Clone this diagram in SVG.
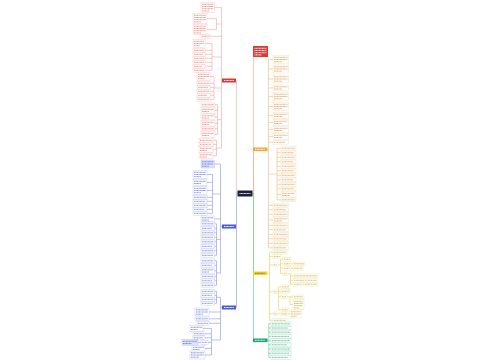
<svg xmlns="http://www.w3.org/2000/svg" width="500" height="360" viewBox="0 0 500 360">
<style>
.c path{fill:none;stroke-width:.6}
.kr{stroke:#eda5a2}.kb{stroke:#8a93dd}.ko{stroke:#eebb7a}.ky{stroke:#e5cf5c}.kg{stroke:#5cc497}
.L rect{fill:#fff;stroke-width:.35}
.L path{fill:none;stroke-width:.85;stroke-dasharray:1.1 .35;opacity:.75}
.r rect{stroke:#f2b3b0}.r path{stroke:#d9605a}
.b rect{stroke:#aab2ee}.b path{stroke:#4a58c8}
.o rect{stroke:#f1cf9c}.o path{stroke:#c98a3c}
.y rect{stroke:#eadc8a}.y path{stroke:#b79e2c}
.g rect{stroke:#96d8bb}.g path{stroke:#2d9e6e}
.f rect{fill:#dde2fb}
.N path{fill:none;stroke:#fff;stroke-width:.9;stroke-dasharray:1.1 .35}
</style>
<rect width="500" height="360" fill="#fff"/>
<g id="connectors" class="c">
<path class="kr" d="M237.5 193.5H236.5V80.5M221.5 80.5H222"/>
<path class="kb" d="M237.5 193.5H236.5V307.5M220.5 226.5H222M220.5 307.5H222"/>
<path class="ko" d="M252.5 193.5H253.5V149.3M267.5 149.3H268.5"/>
<path class="kr" d="M252.5 193.5H253.5V57"/>
<path class="ky" d="M252.5 193.5H253.5V273.3M267.5 273.3H269.5"/>
<path class="kg" d="M252.5 193.5H253.5V340.3M267.5 340.3H268.8"/>
<path class="kr" d="M221.5 7.6V148M214.5 7.6H221.5M207 18.6H216.5M207 29.6H216.5M216.5 18.6V29.6M216.5 24H221.5M210 36.3H221.5M205 43.5H212M205 50.3H212M205 54.3H212M205 58.3H212M205 62.3H212M205 66.3H212M205 70.3H212M212 43.5V70.3M212 57H221.5M210 76.5H214M210 83.3H214M210 87.3H214M210 91.3H214M210 95.3H214M210 99.3H214M214 76.5V99.3M214 88H221.5M215 104.8H217.5M215 110.4H217.5M215 116.9H217.5M215 123.4H217.5M215 128.8H217.5M215 134.4H217.5M217.5 104.8V134.4M217.5 119.6H221.5M213 140.3H216.5M213 144.3H216.5M213 149.4H216.5M213 155.9H216.5M216.5 140.3V155.9M216.5 148H221.5"/>
<path class="kb" d="M220.5 164V273M214.5 164H220.5M207 174.5H212.5M207 182.4H212.5M207 190.5H212.5M207 197.3H212.5M207 201.3H212.5M207 205.3H212.5M207 209.3H212.5M207 213.3H212.5M212.5 174.5V213.3M212.5 194H220.5M214.5 218.9H220.5M214.5 223.8H216.5M214.5 228.3H216.5M214.5 232.8H216.5M214.5 237.3H216.5M214.5 241.8H216.5M214.5 246.3H216.5M214.5 250.8H216.5M214.5 255.3H216.5M216.5 223.8V255.3M216.5 239.5H220.5M214.5 260.8H216.5M214.5 265.3H216.5M214.5 270.9H216.5M214.5 276.3H216.5M214.5 280.8H216.5M214.5 285.3H216.5M216.5 260.8V285.3M216.5 273H220.5"/>
<path class="kb" d="M220.5 297.3V340M214.5 291.3H216.5M214.5 295.3H216.5M214.5 299.3H216.5M214.5 303.3H216.5M216.5 291.3V303.3M216.5 297.3H220.5M209 312H220.5M209 318.8H220.5M209 323.3H220.5M203 328.4H211.5M205 333.8H211.5M205 337.8H211.5M198 342.4H201M208 342.4H211.5M205 348.4H211.5M205 355H211.5M211.5 328.4V355M211.5 340H220.5"/>
<path class="ko" d="M268.5 59.5V247.8M268.5 59.5H273M268.5 69H273M268.5 79H273M268.5 87.9H273M268.5 96.5H273M268.5 106.5H273M268.5 115.4H273M268.5 122.4H273M268.5 129.4H273M268.5 136.4H273M268.5 142.3H273M268.5 205.3H273M268.5 209.8H273M268.5 214.3H273M268.5 219.9H273M268.5 225.3H273M268.5 229.8H273M268.5 234.3H273M268.5 238.8H273M268.5 243.3H273M268.5 247.8H273M268.5 174H277M277 148.3V199.8M277 148.3H281M277 152.8H281M277 157.3H281M277 161.8H281M277 166.3H281M277 170.8H281M277 175.3H281M277 179.8H281M277 184.3H281M277 188.8H281M277 194.4H281M277 199.8H281"/>
<path class="ky" d="M269.5 252.3V320.3M269.5 252.3H273M269.5 256.6H273M269.5 264.8H273M269.5 291.8H273M269.5 313.8H273M269.5 320.3H273M278 264.8H280.5M280.5 259.3V273.8M280.5 259.3H283M280.5 263.8H283M280.5 268.3H283M280.5 273.8H283M291 263.8H293M291 268.3H293M288 273.8H290.5M290.5 273.8V284.3M290.5 275.8H293M290.5 280.3H293M290.5 284.3H293M305 280.3H307M302 284.3H304M278 291.8H278.5M278.5 286.8V309.8M278.5 286.8H281M278.5 291.3H281M278.5 296.8H281M278.5 309.8H281M287 296.8H290M290 296.8V304.6M290 296.8H293M290 304.6H293M278 313.8H281M288 313.8H290"/>
<path class="kg" d="M268.8 323.8V357.4M268.8 323.8H271M268.8 328H271M268.8 332.2H271M268.8 336.4H271M268.8 340.6H271M268.8 344.8H271M268.8 349H271M268.8 353.2H271M268.8 357.4H271"/>
</g>
<g id="root" class="N"><rect x="237.5" y="190.5" width="15" height="6" fill="#1c2040"/><path d="M239.5 193.5h11"/></g>
<g id="title" class="N"><rect x="253" y="46" width="15" height="11" fill="#db3b35"/><path d="M254.5 48.3h12M254.5 50.5h12M254.5 52.7h12M254.5 54.9h7"/></g>
<g id="br-red" class="N"><rect x="222" y="78.5" width="14" height="4" fill="#d93a34"/><path d="M224 80.5h10"/></g>
<g id="br-blue1" class="N"><rect x="222" y="224.5" width="14" height="4" fill="#4b5bd0"/><path d="M224 226.5h10"/></g>
<g id="br-blue2" class="N"><rect x="222" y="305.5" width="14" height="4" fill="#4b5bd0"/><path d="M224 307.5h10"/></g>
<g id="br-orange" class="N"><rect x="253" y="147.5" width="14.5" height="3.6" fill="#f2a340"/><path d="M255 149.3h10"/></g>
<g id="br-yellow"><rect x="253" y="271.5" width="14.5" height="3.6" fill="#f5d327"/><path d="M255 273.3h10" stroke="#8a6d00" stroke-width=".9" stroke-dasharray="1.1 .35"/></g>
<g id="br-green" class="N"><rect x="253" y="338.5" width="14.5" height="3.6" fill="#23a26e"/><path d="M255 340.3h10"/></g>

<g id="r1" class="L r"><rect x="201" y="2.5" width="13.5" height="10.2"/><path d="M202 4.3h11.5M202 6.5h11.5M202 8.7h11.5M202 10.9h6.9"/></g>
<g id="r2" class="L r"><rect x="193" y="13.5" width="14" height="10.2"/><path d="M194 15.3h12M194 17.5h12M194 19.7h12M194 21.9h7.2"/></g>
<g id="r3" class="L r"><rect x="193" y="24.5" width="14" height="10.2"/><path d="M194 26.3h12M194 28.5h12M194 30.7h12M194 32.9h7.2"/></g>
<g id="r4" class="L r"><rect x="201" y="34.5" width="9" height="3.6"/><path d="M202 36.3h7"/></g>
<g id="r5" class="L r"><rect x="193" y="39.5" width="12" height="8"/><path d="M194 41.3h10M194 43.5h10M194 45.7h6"/></g>
<g id="r6" class="L r"><rect x="193" y="48.5" width="12" height="3.6"/><path d="M194 50.3h10"/></g>
<g id="r7" class="L r"><rect x="193" y="52.5" width="12" height="3.6"/><path d="M194 54.3h9"/></g>
<g id="r8" class="L r"><rect x="193" y="56.5" width="12" height="3.6"/><path d="M194 58.3h10"/></g>
<g id="r9" class="L r"><rect x="193" y="60.5" width="12" height="3.6"/><path d="M194 62.3h10"/></g>
<g id="r10" class="L r"><rect x="193" y="64.5" width="12" height="3.6"/><path d="M194 66.3h8"/></g>
<g id="r11" class="L r"><rect x="193" y="68.5" width="12" height="3.6"/><path d="M194 70.3h10"/></g>
<g id="r12" class="L r"><rect x="197" y="72.5" width="13" height="8"/><path d="M198 74.3h11M198 76.5h11M198 78.7h6.6"/></g>
<g id="r13" class="L r"><rect x="197" y="81.5" width="13" height="3.6"/><path d="M198 83.3h11"/></g>
<g id="r14" class="L r"><rect x="197" y="85.5" width="13" height="3.6"/><path d="M198 87.3h10"/></g>
<g id="r15" class="L r"><rect x="197" y="89.5" width="13" height="3.6"/><path d="M198 91.3h11"/></g>
<g id="r16" class="L r"><rect x="197" y="93.5" width="13" height="3.6"/><path d="M198 95.3h9"/></g>
<g id="r17" class="L r"><rect x="197" y="97.5" width="13" height="3.6"/><path d="M198 99.3h11"/></g>
<g id="r18" class="L r"><rect x="201" y="103" width="14" height="3.6"/><path d="M202 104.8h12"/></g>
<g id="r19" class="L r"><rect x="201" y="107.5" width="14" height="5.8"/><path d="M202 109.3h12M202 111.5h7.2"/></g>
<g id="r20" class="L r"><rect x="201" y="114" width="14" height="5.8"/><path d="M202 115.8h12M202 118h7.2"/></g>
<g id="r21" class="L r"><rect x="201" y="120.5" width="14" height="5.8"/><path d="M202 122.3h12M202 124.5h7.2"/></g>
<g id="r22" class="L r"><rect x="201" y="127" width="14" height="3.6"/><path d="M202 128.8h12"/></g>
<g id="r23" class="L r"><rect x="201" y="131.5" width="14" height="5.8"/><path d="M202 133.3h12M202 135.5h7.2"/></g>
<g id="r24" class="L r"><rect x="199" y="138.5" width="14" height="3.6"/><path d="M200 140.3h12"/></g>
<g id="r25" class="L r"><rect x="199" y="142.5" width="14" height="3.6"/><path d="M200 144.3h11"/></g>
<g id="r26" class="L r"><rect x="199" y="146.5" width="14" height="5.8"/><path d="M200 148.3h12M200 150.5h7.2"/></g>
<g id="r27" class="L r"><rect x="199" y="153" width="14" height="5.8"/><path d="M200 154.8h12M200 157h7.2"/></g>

<g id="b1" class="L b f"><rect x="201" y="160" width="13.5" height="8"/><path d="M202 161.8h11.5M202 164h11.5M202 166.2h6.9"/></g>
<g id="b2" class="L b"><rect x="193" y="170.5" width="14" height="8"/><path d="M194 172.3h12M194 174.5h12M194 176.7h7.2"/></g>
<g id="b3" class="L b"><rect x="193" y="179.5" width="14" height="5.8"/><path d="M194 181.3h12M194 183.5h7.2"/></g>
<g id="b4" class="L b"><rect x="193" y="186.5" width="14" height="8"/><path d="M194 188.3h12M194 190.5h12M194 192.7h7.2"/></g>
<g id="b5" class="L b"><rect x="193" y="195.5" width="14" height="3.6"/><path d="M194 197.3h12"/></g>
<g id="b6" class="L b"><rect x="193" y="199.5" width="14" height="3.6"/><path d="M194 201.3h11"/></g>
<g id="b7" class="L b"><rect x="193" y="203.5" width="14" height="3.6"/><path d="M194 205.3h12"/></g>
<g id="b8" class="L b"><rect x="193" y="207.5" width="14" height="3.6"/><path d="M194 209.3h10"/></g>
<g id="b9" class="L b"><rect x="193" y="211.5" width="14" height="3.6"/><path d="M194 213.3h12"/></g>
<g id="b10" class="L b"><rect x="201" y="216" width="13.5" height="5.8"/><path d="M202 217.8h11.5M202 220h6.9"/></g>
<g id="b11" class="L b"><rect x="201" y="222" width="13.5" height="3.6"/><path d="M202 223.8h11.5"/></g>
<g id="b12" class="L b"><rect x="201" y="226.5" width="13.5" height="3.6"/><path d="M202 228.3h10"/></g>
<g id="b13" class="L b"><rect x="201" y="231" width="13.5" height="3.6"/><path d="M202 232.8h11.5"/></g>
<g id="b14" class="L b"><rect x="201" y="235.5" width="13.5" height="3.6"/><path d="M202 237.3h11"/></g>
<g id="b15" class="L b"><rect x="201" y="240" width="13.5" height="3.6"/><path d="M202 241.8h11.5"/></g>
<g id="b16" class="L b"><rect x="201" y="244.5" width="13.5" height="3.6"/><path d="M202 246.3h10"/></g>
<g id="b17" class="L b"><rect x="201" y="249" width="13.5" height="3.6"/><path d="M202 250.8h11.5"/></g>
<g id="b18" class="L b"><rect x="201" y="253.5" width="13.5" height="3.6"/><path d="M202 255.3h11"/></g>
<g id="b19" class="L b"><rect x="201" y="259" width="13.5" height="3.6"/><path d="M202 260.8h11.5"/></g>
<g id="b20" class="L b"><rect x="201" y="263.5" width="13.5" height="3.6"/><path d="M202 265.3h10"/></g>
<g id="b21" class="L b"><rect x="201" y="268" width="13.5" height="5.8"/><path d="M202 269.8h11.5M202 272h6.9"/></g>
<g id="b22" class="L b"><rect x="201" y="274.5" width="13.5" height="3.6"/><path d="M202 276.3h11.5"/></g>
<g id="b23" class="L b"><rect x="201" y="279" width="13.5" height="3.6"/><path d="M202 280.8h10"/></g>
<g id="b24" class="L b"><rect x="201" y="283.5" width="13.5" height="3.6"/><path d="M202 285.3h11.5"/></g>

<g id="d1" class="L b"><rect x="201" y="289.5" width="13.5" height="3.6"/><path d="M202 291.3h11.5"/></g>
<g id="d2" class="L b"><rect x="201" y="293.5" width="13.5" height="3.6"/><path d="M202 295.3h10"/></g>
<g id="d3" class="L b"><rect x="201" y="297.5" width="13.5" height="3.6"/><path d="M202 299.3h11.5"/></g>
<g id="d4" class="L b"><rect x="201" y="301.5" width="13.5" height="3.6"/><path d="M202 303.3h11"/></g>
<g id="d5" class="L b"><rect x="195" y="308" width="14" height="8"/><path d="M196 309.8h12M196 312h12M196 314.2h7.2"/></g>
<g id="d6" class="L b"><rect x="195" y="317" width="14" height="3.6"/><path d="M196 318.8h12"/></g>
<g id="d7" class="L b"><rect x="197" y="321.5" width="12" height="3.6"/><path d="M198 323.3h10"/></g>
<g id="d8" class="L b"><rect x="190" y="325.5" width="13" height="5.8"/><path d="M191 327.3h11M191 329.5h6.6"/></g>
<g id="d9" class="L b"><rect x="193" y="332" width="12" height="3.6"/><path d="M194 333.8h10"/></g>
<g id="d10" class="L b"><rect x="193" y="336" width="12" height="3.6"/><path d="M194 337.8h9"/></g>
<g id="d11" class="L b f"><rect x="182" y="339.5" width="16" height="5.8"/><path d="M183 341.3h14M183 343.5h8.4"/></g>
<g id="d12" class="L b"><rect x="201" y="340.6" width="7" height="3.6"/><path d="M202 342.4h5"/></g>
<g id="d13" class="L b"><rect x="192" y="345.5" width="13" height="5.8"/><path d="M193 347.3h11M193 349.5h6.6"/></g>
<g id="d14" class="L b"><rect x="190" y="351" width="15" height="8"/><path d="M191 352.8h13M191 355h13M191 357.2h7.8"/></g>

<g id="o1" class="L o"><rect x="273" y="55.5" width="15.5" height="8"/><path d="M274 57.3h13.5M274 59.5h13.5M274 61.7h8.1"/></g>
<g id="o2" class="L o"><rect x="273" y="65" width="15.5" height="8"/><path d="M274 66.8h13.5M274 69h13.5M274 71.2h8.1"/></g>
<g id="o3" class="L o"><rect x="273" y="75" width="15.5" height="8"/><path d="M274 76.8h13.5M274 79h13.5M274 81.2h8.1"/></g>
<g id="o4" class="L o"><rect x="273" y="85" width="15.5" height="5.8"/><path d="M274 86.8h13.5M274 89h8.1"/></g>
<g id="o5" class="L o"><rect x="273" y="92.5" width="15.5" height="8"/><path d="M274 94.3h13.5M274 96.5h13.5M274 98.7h8.1"/></g>
<g id="o6" class="L o"><rect x="273" y="102.5" width="15.5" height="8"/><path d="M274 104.3h13.5M274 106.5h13.5M274 108.7h8.1"/></g>
<g id="o7" class="L o"><rect x="273" y="112.5" width="15.5" height="5.8"/><path d="M274 114.3h13.5M274 116.5h8.1"/></g>
<g id="o8" class="L o"><rect x="273" y="119.5" width="15.5" height="5.8"/><path d="M274 121.3h13.5M274 123.5h8.1"/></g>
<g id="o9" class="L o"><rect x="273" y="126.5" width="15.5" height="5.8"/><path d="M274 128.3h13.5M274 130.5h8.1"/></g>
<g id="o10" class="L o"><rect x="273" y="133.5" width="15.5" height="5.8"/><path d="M274 135.3h13.5M274 137.5h8.1"/></g>
<g id="o11" class="L o"><rect x="273" y="140.5" width="15.5" height="3.6"/><path d="M274 142.3h11"/></g>
<g id="o12" class="L o"><rect x="281" y="146.5" width="15" height="3.6"/><path d="M282 148.3h13"/></g>
<g id="o13" class="L o"><rect x="281" y="151" width="15" height="3.6"/><path d="M282 152.8h12"/></g>
<g id="o14" class="L o"><rect x="281" y="155.5" width="15" height="3.6"/><path d="M282 157.3h13"/></g>
<g id="o15" class="L o"><rect x="281" y="160" width="15" height="3.6"/><path d="M282 161.8h11"/></g>
<g id="o16" class="L o"><rect x="281" y="164.5" width="15" height="3.6"/><path d="M282 166.3h13"/></g>
<g id="o17" class="L o"><rect x="281" y="169" width="15" height="3.6"/><path d="M282 170.8h12"/></g>
<g id="o18" class="L o"><rect x="281" y="173.5" width="15" height="3.6"/><path d="M282 175.3h13"/></g>
<g id="o19" class="L o"><rect x="281" y="178" width="15" height="3.6"/><path d="M282 179.8h11"/></g>
<g id="o20" class="L o"><rect x="281" y="182.5" width="15" height="3.6"/><path d="M282 184.3h13"/></g>
<g id="o21" class="L o"><rect x="281" y="187" width="15" height="3.6"/><path d="M282 188.8h12"/></g>
<g id="o22" class="L o"><rect x="281" y="191.5" width="15" height="5.8"/><path d="M282 193.3h13M282 195.5h7.8"/></g>
<g id="o23" class="L o"><rect x="281" y="198" width="15" height="3.6"/><path d="M282 199.8h13"/></g>
<g id="o24" class="L o"><rect x="273" y="203.5" width="15.5" height="3.6"/><path d="M274 205.3h13.5"/></g>
<g id="o25" class="L o"><rect x="273" y="208" width="15.5" height="3.6"/><path d="M274 209.8h12"/></g>
<g id="o26" class="L o"><rect x="273" y="212.5" width="15.5" height="3.6"/><path d="M274 214.3h13.5"/></g>
<g id="o27" class="L o"><rect x="273" y="217" width="15.5" height="5.8"/><path d="M274 218.8h13.5M274 221h8.1"/></g>
<g id="o28" class="L o"><rect x="273" y="223.5" width="15.5" height="3.6"/><path d="M274 225.3h13.5"/></g>
<g id="o29" class="L o"><rect x="273" y="228" width="15.5" height="3.6"/><path d="M274 229.8h12"/></g>
<g id="o30" class="L o"><rect x="273" y="232.5" width="15.5" height="3.6"/><path d="M274 234.3h13.5"/></g>
<g id="o31" class="L o"><rect x="273" y="237" width="15.5" height="3.6"/><path d="M274 238.8h13"/></g>
<g id="o32" class="L o"><rect x="273" y="241.5" width="15.5" height="3.6"/><path d="M274 243.3h13.5"/></g>
<g id="o33" class="L o"><rect x="273" y="246" width="15.5" height="3.6"/><path d="M274 247.8h12"/></g>

<g id="y1" class="L y"><rect x="273" y="250.5" width="14" height="3.6"/><path d="M274 252.3h12"/></g>
<g id="y2" class="L y"><rect x="273" y="254.8" width="8" height="3.6"/><path d="M274 256.6h6"/></g>
<g id="y3" class="L y"><rect x="273" y="263" width="5" height="3.6"/><path d="M274 264.8h3"/></g>
<g id="y4" class="L y"><rect x="283" y="257.5" width="8" height="3.6"/><path d="M284 259.3h6"/></g>
<g id="y5" class="L y"><rect x="283" y="262" width="8" height="3.6"/><path d="M284 263.8h6"/></g>
<g id="y6" class="L y"><rect x="293" y="262" width="12" height="3.6"/><path d="M294 263.8h10"/></g>
<g id="y7" class="L y"><rect x="283" y="266.5" width="8" height="3.6"/><path d="M284 268.3h6"/></g>
<g id="y8" class="L y"><rect x="293" y="266.5" width="10" height="3.6"/><path d="M294 268.3h8"/></g>
<g id="y9" class="L y"><rect x="283" y="272" width="5" height="3.6"/><path d="M284 273.8h3"/></g>
<g id="y10" class="L y"><rect x="293" y="274" width="25" height="3.6"/><path d="M294 275.8h23"/></g>
<g id="y11" class="L y"><rect x="293" y="278.5" width="12" height="3.6"/><path d="M294 280.3h10"/></g>
<g id="y12" class="L y"><rect x="307" y="278.5" width="11" height="3.6"/><path d="M308 280.3h9"/></g>
<g id="y13" class="L y"><rect x="293" y="282.5" width="9" height="3.6"/><path d="M294 284.3h7"/></g>
<g id="y14" class="L y"><rect x="304" y="282.5" width="14" height="3.6"/><path d="M305 284.3h12"/></g>
<g id="y15" class="L y"><rect x="273" y="290" width="5" height="3.6"/><path d="M274 291.8h3"/></g>
<g id="y16" class="L y"><rect x="281" y="285" width="9" height="3.6"/><path d="M282 286.8h7"/></g>
<g id="y17" class="L y"><rect x="281" y="289.5" width="9" height="3.6"/><path d="M282 291.3h7"/></g>
<g id="y18" class="L y"><rect x="281" y="295" width="6" height="3.6"/><path d="M282 296.8h4"/></g>
<g id="y19" class="L y"><rect x="293" y="295" width="11" height="3.6"/><path d="M294 296.8h9"/></g>
<g id="y20" class="L y"><rect x="293" y="299.5" width="11" height="10.2"/><path d="M294 301.3h9M294 303.5h9M294 305.7h9M294 307.9h5.4"/></g>
<g id="y21" class="L y"><rect x="281" y="308" width="8" height="3.6"/><path d="M282 309.8h6"/></g>
<g id="y22" class="L y"><rect x="273" y="312" width="5" height="3.6"/><path d="M274 313.8h3"/></g>
<g id="y23" class="L y"><rect x="281" y="312" width="7" height="3.6"/><path d="M282 313.8h5"/></g>
<g id="y24" class="L y"><rect x="290" y="310" width="12" height="8"/><path d="M291 311.8h10M291 314h10M291 316.2h6"/></g>
<g id="y25" class="L y"><rect x="273" y="318.5" width="14" height="3.6"/><path d="M274 320.3h12"/></g>

<g id="g1" class="L g"><rect x="271" y="322" width="20" height="3.6"/><path d="M272 323.8h18"/></g>
<g id="g2" class="L g"><rect x="271" y="326.2" width="20" height="3.6"/><path d="M272 328h16"/></g>
<g id="g3" class="L g"><rect x="271" y="330.4" width="20" height="3.6"/><path d="M272 332.2h18"/></g>
<g id="g4" class="L g"><rect x="271" y="334.6" width="20" height="3.6"/><path d="M272 336.4h17"/></g>
<g id="g5" class="L g"><rect x="271" y="338.8" width="20" height="3.6"/><path d="M272 340.6h18"/></g>
<g id="g6" class="L g"><rect x="271" y="343" width="20" height="3.6"/><path d="M272 344.8h15"/></g>
<g id="g7" class="L g"><rect x="271" y="347.2" width="20" height="3.6"/><path d="M272 349h18"/></g>
<g id="g8" class="L g"><rect x="271" y="351.4" width="20" height="3.6"/><path d="M272 353.2h17"/></g>
<g id="g9" class="L g"><rect x="271" y="355.6" width="20" height="3.6"/><path d="M272 357.4h16"/></g>
</svg>
